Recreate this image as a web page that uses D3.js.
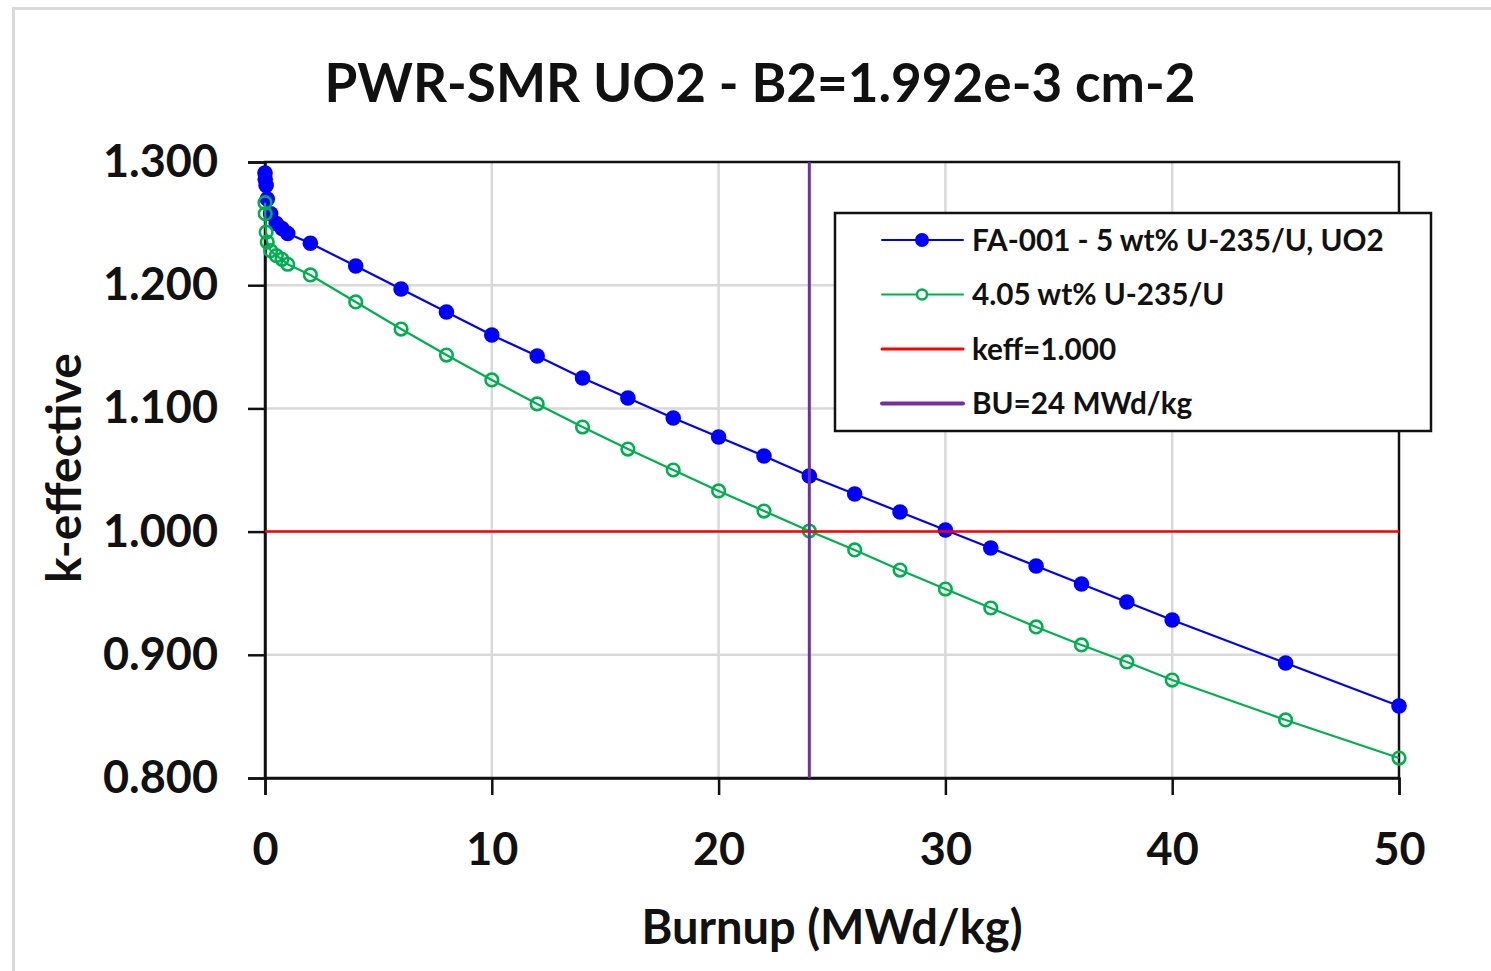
<!DOCTYPE html>
<head>
    <meta charset="utf-8">
    <title>PWR-SMR UO2 k-effective</title>
    <script src="https://d3js.org/d3.v7.min.js"></script>
    <style>
        body { margin: 0; background: #fff; }
        text { font-family: Lato, "Open Sans", sans-serif; font-weight: bold; fill: #111; }
    </style>
</head>

<body>
    <div id="container"></div>
    <script>
        //------------------------DATA------------------------//
        var burnup = [0, 0.01, 0.05, 0.1, 0.25, 0.5, 0.75, 1, 2, 4, 6, 8, 10, 12, 14, 16, 18, 20,
            22, 24, 26, 28, 30, 32, 34, 36, 38, 40, 45, 50];
        var keffFA001 = [1.291, 1.286, 1.281, 1.270, 1.258, 1.250, 1.246, 1.242, 1.234, 1.2156, 1.1969, 1.1782,
            1.1596, 1.1425, 1.1247, 1.1084, 1.0922, 1.0768, 1.0614, 1.0451, 1.0305, 1.0159,
            1.0013, 0.9867, 0.9721, 0.9575, 0.9429, 0.9282, 0.8933, 0.8584];
        var keff405 = [1.267, 1.258, 1.243, 1.235, 1.228, 1.224, 1.221, 1.217, 1.2083, 1.1864, 1.1644, 1.1433,
            1.1231, 1.1036, 1.0849, 1.0670, 1.0500, 1.0330, 1.0167, 1.0005, 0.9851, 0.9688,
            0.9534, 0.9380, 0.9226, 0.9080, 0.8942, 0.8795, 0.8471, 0.8162];
        var keffLimit = 1.000;
        var buLimit = 24;
        var xTicks = [0, 10, 20, 30, 40, 50];
        var yTicks = [0.8, 0.9, 1.0, 1.1, 1.2, 1.3];
        var legendLabels = ["FA-001 - 5 wt% U-235/U, UO2", "4.05 wt% U-235/U", "keff=1.000", "BU=24 MWd/kg"];

        //------------------------SVG------------------------//
        var W = 1491, H = 971;
        var plot = { left: 265, right: 1399, top: 162, bottom: 778 };
        var svg = d3.select("#container").append("svg").attr("width", W).attr("height", H);

        // outer chart frame
        svg.append("path")
            .attr("d", "M13.5," + H + "V8.5H" + W)
            .attr("fill", "none").attr("stroke", "#d9d9d9").attr("stroke-width", 3);

        var x = d3.scaleLinear().domain([0, 50]).range([plot.left, plot.right]);
        var y = d3.scaleLinear().domain([0.8, 1.3]).range([plot.bottom, plot.top]);

        //------------------------GRID------------------------//
        svg.append("g").selectAll("line").data(xTicks.slice(1, -1)).enter().append("line")
            .attr("x1", d => x(d)).attr("x2", d => x(d))
            .attr("y1", plot.top).attr("y2", plot.bottom)
            .attr("stroke", "#d9d9d9").attr("stroke-width", 2.5);
        svg.append("g").selectAll("line").data(yTicks.slice(1, -1)).enter().append("line")
            .attr("x1", plot.left).attr("x2", plot.right)
            .attr("y1", d => y(d)).attr("y2", d => y(d))
            .attr("stroke", "#d9d9d9").attr("stroke-width", 2.5);

        // plot border
        svg.append("rect")
            .attr("x", plot.left).attr("y", plot.top)
            .attr("width", plot.right - plot.left).attr("height", plot.bottom - plot.top)
            .attr("fill", "none").attr("stroke", "#111").attr("stroke-width", 2.5);

        //------------------------AXES------------------------//
        var gx = svg.append("g")
            .attr("transform", "translate(0," + plot.bottom + ")")
            .call(d3.axisBottom(x).tickValues(xTicks).tickSize(17).tickPadding(38).tickFormat(d3.format("d")));
        var gy = svg.append("g")
            .attr("transform", "translate(" + plot.left + ",0)")
            .call(d3.axisLeft(y).tickValues(yTicks).tickSize(17).tickPadding(30).tickFormat(d3.format(".3f")));

        [gx, gy].forEach(function (g) {
            g.select(".domain").attr("stroke", "#111").attr("stroke-width", 2.5);
            g.selectAll(".tick line").attr("stroke", "#111").attr("stroke-width", 2.5);
            g.selectAll(".tick text").style("font-size", "45px").attr("fill", "#111");
        });

        //------------------------SERIES------------------------//
        var pts1 = burnup.map((b, i) => [b, keffFA001[i]]);
        var pts2 = burnup.map((b, i) => [b, keff405[i]]);
        var line = d3.line().x(d => x(d[0])).y(d => y(d[1]));

        svg.append("path").datum(pts1).attr("d", line)
            .attr("fill", "none").attr("stroke", "#0000ff").attr("stroke-width", 2.2);
        svg.append("g").selectAll("circle").data(pts1).enter().append("circle")
            .attr("cx", d => x(d[0])).attr("cy", d => y(d[1])).attr("r", 7.8)
            .attr("fill", "#0000ff");

        svg.append("path").datum(pts2).attr("d", line)
            .attr("fill", "none").attr("stroke", "#00b050").attr("stroke-width", 2.2);
        svg.append("g").selectAll("circle").data(pts2).enter().append("circle")
            .attr("cx", d => x(d[0])).attr("cy", d => y(d[1])).attr("r", 6.3)
            .attr("fill", "none").attr("stroke", "#00b050").attr("stroke-width", 2.6);

        svg.append("line")
            .attr("x1", x(0)).attr("x2", x(50)).attr("y1", y(keffLimit)).attr("y2", y(keffLimit))
            .attr("stroke", "#ff0000").attr("stroke-width", 2.5);
        svg.append("line")
            .attr("x1", x(buLimit)).attr("x2", x(buLimit)).attr("y1", y(1.3)).attr("y2", y(0.8))
            .attr("stroke", "#7030a0").attr("stroke-width", 3);

        //------------------------TITLES------------------------//
        svg.append("text").attr("x", 760).attr("y", 102).attr("text-anchor", "middle")
            .style("font-size", "53px").text("PWR-SMR UO2 - B2=1.992e-3 cm-2");
        svg.append("text").attr("x", 832).attr("y", 944).attr("text-anchor", "middle")
            .style("font-size", "47px").text("Burnup (MWd/kg)");
        svg.append("text").attr("transform", "translate(81,468) rotate(-90)").attr("text-anchor", "middle")
            .style("font-size", "48px").text("k-effective");

        //------------------------LEGEND------------------------//
        var legend = svg.append("g");
        legend.append("rect").attr("x", 835).attr("y", 213).attr("width", 596).attr("height", 218)
            .attr("fill", "#fff").attr("stroke", "#111").attr("stroke-width", 2.5);
        var styles = [
            { color: "#0000ff", width: 2, marker: "fill" },
            { color: "#00b050", width: 2, marker: "open" },
            { color: "#ff0000", width: 3, marker: null },
            { color: "#7030a0", width: 4, marker: null }
        ];
        var item = legend.selectAll(".item").data(legendLabels).enter().append("g")
            .attr("class", "item")
            .attr("transform", (d, i) => "translate(0," + (240 + i * 54.5) + ")");
        item.append("line").attr("x1", 882).attr("x2", 963)
            .attr("stroke", (d, i) => styles[i].color).attr("stroke-width", (d, i) => styles[i].width)
            .attr("stroke-linecap", "round");
        item.filter((d, i) => styles[i].marker === "fill").append("circle")
            .attr("cx", 922).attr("r", 7).attr("fill", "#0000ff");
        item.filter((d, i) => styles[i].marker === "open").append("circle")
            .attr("cx", 922).attr("r", 5).attr("fill", "#fff").attr("stroke", "#00b050").attr("stroke-width", 2.5);
        item.append("text").attr("x", 972).attr("dy", "0.36em")
            .style("font-size", "29.7px").text(d => d);
    </script>
</body>
